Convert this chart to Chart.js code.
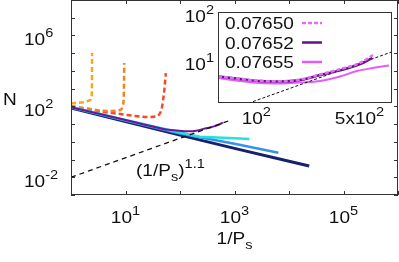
<!DOCTYPE html>
<html><head><meta charset="utf-8">
<script src="https://cdn.jsdelivr.net/npm/chart.js@4.4.1/dist/chart.umd.min.js"></script>
<style>
html,body{margin:0;padding:0;background:#fff;overflow:hidden}
#wrap{position:relative;width:399px;height:262px}
#main{position:absolute;left:0;top:0}
#inset{position:absolute;left:180px;top:0}
</style></head><body>
<div id="wrap"><canvas id="main" width="399" height="262"></canvas><canvas id="inset" width="219" height="135"></canvas></div>
<script>
// ---------- data ----------
const yellowX=[1,1.8,2.25,2.4,2.42,2.43,2.44];
const yellowN=[145,176,228,437,1600,21000,102000];
const orangeX=[1,2,3.4,5.9,7.9,9.0,9.3,9.4,9.5];
const orangeN=[105,76,58,55,62,119,437,3060,27900];
const redX=[1,2,4,8,15,25,35,42,46,49,52,55];
const redN=[81,62,48,37,28.6,25,27,37,71,228,1085,7600];
const navyX=[1,10,100,1000,10000,23500];
const navyN=[81,13.8,2.39,0.425,0.0806,0.0433];
const blueX=[1,10,100,1000,6380];
const blueN=[86,15.7,2.98,0.78,0.243];
const cyanX=[1,10,100,229,1000,1880];
const cyanN=[92,17,3.35,1.94,1.58,1.44];
const purpleX=[1,10,30,55,78,106,145,198,271,370,505,610];
const purpleN=[90,17,7.5,5.0,4.43,4.02,3.93,4.22,5.36,6.7,9.0,12.2];
const guideX=[1,900];
const guideN=[0.01,17.8];
// inset
const insetLabels=['0.07650','0.07652','0.07655'];
const p50X=[55,78,106,145,198,271,370,505,617];
const p50N=[5.0,4.45,4.05,3.95,4.3,5.5,7.1,9.6,14.0];
const p52X=[55,78,106,145,198,271,370,505,610];
const p52N=[5.0,4.43,4.02,3.93,4.22,5.36,6.7,9.0,12.2];
const p55X=[55,78,106,145,198,271,370,481,617,792];
const p55N=[4.64,4.02,3.65,3.57,3.74,4.02,5.0,6.5,7.5,8.45];
// ticks
const mainXTicks=[1,10,100,1e3,1e4,1e5,1e6];
const mainYTicks=[1e-3,1e-2,1e-1,1,10,100,1e3,1e4,1e5,1e6,1e7,1e8];
const mainXLabels=[[10,'1'],[1000,'3'],[100000,'5']];
const mainYLabels=[[0.01,'-2'],[100,'2'],[1e6,'6']];
const insetXLabels=[[100,'10','2'],[500,'5x10','2']];
const insetYLabels=[[10,'1'],[100,'2']];

const pts=(xs,ys)=>xs.map((x,i)=>({x:x,y:ys[i]}));
const FONT='"Liberation Sans", Arial, sans-serif';
const SX=1.12;
function rich(ctx,parts,x,y,align){
  let w=0;const ws=[];
  parts.forEach(p=>{ctx.font=p[1]+'px '+FONT;const m=ctx.measureText(p[0]).width*SX;ws.push(m);w+=m;});
  let cx=align==='center'?x-w/2:(align==='right'?x-w:x);
  ctx.textAlign='left';ctx.textBaseline='alphabetic';
  parts.forEach((p,i)=>{ctx.font=p[1]+'px '+FONT;ctx.save();ctx.translate(cx,y+p[2]);ctx.scale(SX,1);ctx.fillText(p[0],0,0);ctx.restore();cx+=ws[i];});
}
function line(ctx,x1,y1,x2,y2){ctx.beginPath();ctx.moveTo(x1,y1);ctx.lineTo(x2,y2);ctx.stroke();}

const ds=(label,xs,ys,color,w,dash,mono)=>({label:label,data:pts(xs,ys),borderColor:color,backgroundColor:color,
  borderWidth:w,borderDash:dash||[],pointRadius:0,showLine:true,fill:false,
  cubicInterpolationMode:mono?'monotone':'default',tension:0});

const mainPlugin={id:'mainDeco',afterDraw(chart){
  const ctx=chart.ctx,ca=chart.chartArea,xs=chart.scales.x,ys=chart.scales.y;
  ctx.save();
  ctx.strokeStyle='#333';ctx.lineWidth=1;
  ctx.strokeRect(ca.left+0.5,ca.top+0.5,ca.right-ca.left-1,ca.bottom-ca.top-1);
  mainXTicks.forEach(v=>{const p=Math.round(xs.getPixelForValue(v))+0.5;
    line(ctx,p,ca.bottom,p,ca.bottom-4);line(ctx,p,ca.top,p,ca.top+4);});
  mainYTicks.forEach(v=>{const p=Math.round(ys.getPixelForValue(v))+0.5;
    line(ctx,ca.left,p,ca.left+4,p);line(ctx,ca.right,p,ca.right-4,p);});
  ctx.fillStyle='#111';
  mainXLabels.forEach(l=>{rich(ctx,[['10',17,0],[l[1],13,-8]],xs.getPixelForValue(l[0]),ca.bottom+28,'center');});
  mainYLabels.forEach(l=>{rich(ctx,[['10',17,0],[l[1],13,-8]],24,ys.getPixelForValue(l[0])+9.5,'left');});
  rich(ctx,[['1/P',17,0],['s',13,5]],(ca.left+ca.right)/2,244,'center');
  rich(ctx,[['N',17,0]],3,105,'left');
  rich(ctx,[['(1/P',17,0],['s',13,5],[')',17,0],['1.1',13,-8]],136,176,'left');
  ctx.restore();
}};

new Chart(document.getElementById('main'),{
  type:'scatter',
  data:{datasets:[
    ds('guide',guideX,guideN,'#111',1.3,[5,4]),
    ds('purple',purpleX,purpleN,'#6a1696',2,null,true),
    ds('cyan',cyanX,cyanN,'#22e2de',2.5),
    ds('blue',blueX,blueN,'#3493e8',2.5),
    ds('navy',navyX,navyN,'#17206e',3),
    ds('yellow',yellowX,yellowN,'#f6a91c',2.5,[5,3],true),
    ds('orange',orangeX,orangeN,'#f5821f',2.5,[5,3],true),
    ds('red',redX,redN,'#f24b2b',2.5,[5,3],true)
  ]},
  options:{responsive:false,animation:false,devicePixelRatio:1,
    layout:{padding:{left:71,right:1,top:0,bottom:67}},
    plugins:{legend:{display:false},tooltip:{enabled:false}},
    scales:{
      x:{type:'logarithmic',min:1,max:1e6,display:false},
      y:{type:'logarithmic',min:1e-3,max:1e8,display:false}
    }},
  plugins:[mainPlugin]
});

const insetPlugin={id:'insetDeco',
  beforeDraw(chart){const ctx=chart.ctx,ca=chart.chartArea;ctx.save();ctx.fillStyle='#fff';
    ctx.fillRect(ca.left,ca.top,ca.right-ca.left,ca.bottom-ca.top);ctx.restore();},
  afterDraw(chart){
    const ctx=chart.ctx,ca=chart.chartArea,xs=chart.scales.x,ys=chart.scales.y;
    ctx.save();
    ctx.strokeStyle='#333';ctx.lineWidth=1;
    ctx.strokeRect(ca.left+0.5,ca.top+0.5,ca.right-ca.left-1,ca.bottom-ca.top-1);
    ctx.fillStyle='#111';
    insetXLabels.forEach(l=>{rich(ctx,[[l[1],17,0],[l[2],13,-8]],xs.getPixelForValue(l[0]),ca.bottom+21,'center');});
    insetYLabels.forEach(l=>{rich(ctx,[['10',17,0],[l[1],13,-8]],ca.left-4,ys.getPixelForValue(l[0])+8,'right');});
    // legend
    const sets=chart.data.datasets.filter(d=>insetLabels.includes(d.label));
    insetLabels.forEach((lab,i)=>{
      const d=sets.find(s=>s.label===lab);
      const by=ca.top+17+i*19.5;
      rich(ctx,[[lab,17,0]],ca.left+7,by,'left');
      ctx.strokeStyle=d.borderColor;ctx.lineWidth=2.5;ctx.setLineDash(d.borderDash||[]);
      line(ctx,ca.left+84,by-6,ca.left+104,by-6);ctx.setLineDash([]);
    });
    ctx.restore();
  }};

new Chart(document.getElementById('inset'),{
  type:'scatter',
  data:{datasets:[
    ds('0.07650',p50X,p50N,'#e26cf2',2.5,[4,2],true),
    ds('0.07652',p52X,p52N,'#62118a',2.5,null,true),
    ds('guideInset',guideX,guideN,'#111',1,[3,2]),
    ds('0.07655',p55X,p55N,'#e45cf6',2,null,true)
  ]},
  options:{responsive:false,animation:false,devicePixelRatio:1,
    layout:{padding:{left:38,right:7,top:12,bottom:32}},
    plugins:{legend:{display:false},tooltip:{enabled:false}},
    scales:{
      x:{type:'logarithmic',min:55,max:830,display:false},
      y:{type:'logarithmic',min:1.4,max:110,display:false}
    }},
  plugins:[insetPlugin]
});
</script>
</body></html>
